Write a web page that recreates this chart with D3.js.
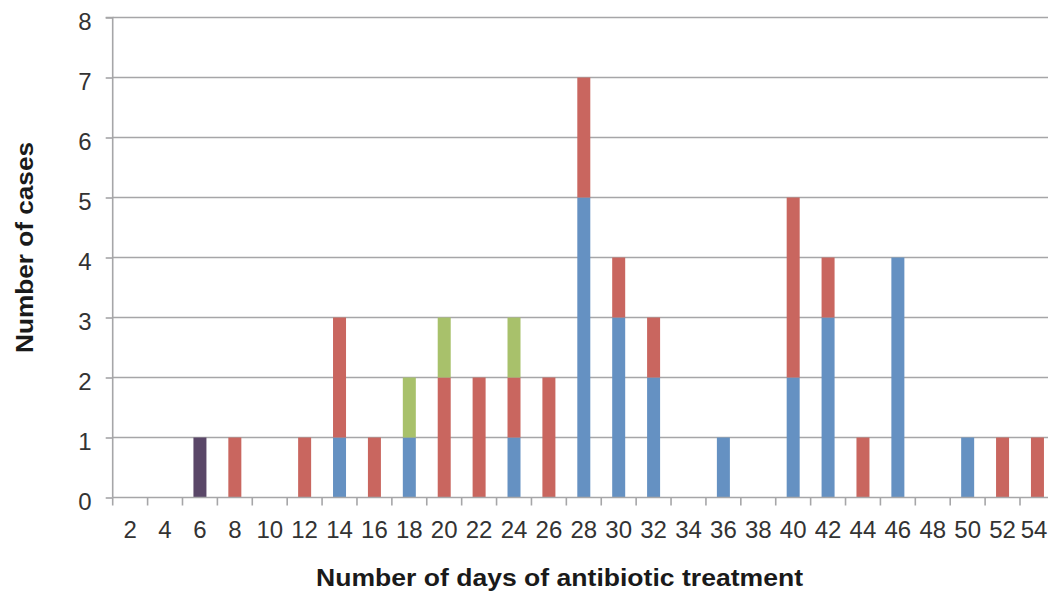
<!DOCTYPE html>
<html>
<head>
<meta charset="utf-8">
<script src="https://cdn.jsdelivr.net/npm/d3@7"></script>
<style>
  html, body { margin: 0; padding: 0; background: #fff; }
  svg { display: block; }
  text { font-family: "Liberation Sans", Arial, sans-serif; }
</style>
</head>
<body>
<script>
const categories = ["2","4","6","8","10","12","14","16","18","20","22","24","26","28","30","32","34","36","38","40","42","44","46","48","50","52","54"];
const blueValues   = [0,0,0,0,0,0,1,0,1,0,0,1,0,5,3,2,0,1,0,2,3,0,4,0,1,0,0];
const redValues    = [0,0,0,1,0,1,2,1,0,2,2,1,2,2,1,1,0,0,0,3,1,1,0,0,0,1,1];
const greenValues  = [0,0,0,0,0,0,0,0,1,1,0,1,0,0,0,0,0,0,0,0,0,0,0,0,0,0,0];
const purpleValues = [0,0,1,0,0,0,0,0,0,0,0,0,0,0,0,0,0,0,0,0,0,0,0,0,0,0,0];
const yTicks = [0,1,2,3,4,5,6,7,8];
const seriesNames = ["blue","red","green","purple"];
const seriesColors = {blue:"#6591c2", red:"#c9665f", green:"#a8c16b", purple:"#5a4768"};

const W = 1048, H = 593;
const svg = d3.select("body").append("svg").attr("width", W).attr("height", H);

const x = d3.scaleBand().domain(categories).range([112.7, 1054.9]).padding(0);
const y = d3.scaleLinear().domain([0, 8]).range([497.5, 17.5]);
const barW = 13;

const rows = categories.map((c, i) => ({cat: c, blue: blueValues[i], red: redValues[i], green: greenValues[i], purple: purpleValues[i]}));
const stack = d3.stack().keys(seriesNames)(rows);

// gridlines
svg.append("g").selectAll("line").data(yTicks.filter(t => t > 0)).join("line")
  .attr("x1", 112.7).attr("x2", W).attr("y1", d => y(d)).attr("y2", d => y(d))
  .attr("stroke", "#a6a6a8").attr("stroke-width", 1.6);

// bars
svg.append("g").selectAll("g").data(stack).join("g")
  .attr("fill", d => seriesColors[d.key])
  .selectAll("rect").data(d => d.filter(s => s[1] > s[0])).join("rect")
  .attr("x", d => x(d.data.cat) + (x.bandwidth() - barW) / 2)
  .attr("width", barW)
  .attr("y", d => y(d[1]))
  .attr("height", d => y(d[0]) - y(d[1]));

// y axis
const yAxis = d3.axisLeft(y).tickValues(yTicks).tickSize(7).tickPadding(14).tickFormat(d3.format("d"));
const gy = svg.append("g").attr("transform", "translate(112.7,0)").call(yAxis);
gy.select(".domain").attr("stroke", "#a6a6a8").attr("stroke-width", 1.6).attr("d", `M-7,${y(8)}H0V${y(0)}`);
gy.selectAll(".tick line").attr("stroke", "#a6a6a8").attr("stroke-width", 1.6);
gy.selectAll(".tick text").attr("font-size", 24).attr("fill", "#333").attr("dy", "0.52em")
  .attr("font-family", "Liberation Sans, Arial, sans-serif");

// x axis baseline
const gx = svg.append("g");
gx.append("line").attr("x1", 112.7).attr("x2", W).attr("y1", y(0)).attr("y2", y(0))
  .attr("stroke", "#a6a6a8").attr("stroke-width", 1.6);
const tickPos = categories.map(c => x(c)).concat([x.range()[1]]);
gx.selectAll("line.t").data(tickPos).join("line").attr("class", "t")
  .attr("x1", d => d).attr("x2", d => d).attr("y1", y(0)).attr("y2", y(0) + 8)
  .attr("stroke", "#a6a6a8").attr("stroke-width", 1.6);
gx.selectAll("text").data(categories).join("text")
  .attr("x", d => Math.min(x(d) + x.bandwidth() / 2, W - 14)).attr("y", 538)
  .attr("text-anchor", "middle").attr("font-size", 24).attr("fill", "#333")
  .text(d => d);

// titles
svg.append("text").attr("x", 559.5).attr("y", 586).attr("text-anchor", "middle")
  .attr("font-size", 24).attr("font-weight", "bold").attr("fill", "#1a1a1a")
  .attr("textLength", 487).attr("lengthAdjust", "spacingAndGlyphs")
  .text("Number of days of antibiotic treatment");
svg.append("text").attr("transform", "translate(33,247.5) rotate(-90)").attr("text-anchor", "middle")
  .attr("font-size", 24).attr("font-weight", "bold").attr("fill", "#1a1a1a")
  .attr("textLength", 211).attr("lengthAdjust", "spacingAndGlyphs")
  .text("Number of cases");
</script>
</body>
</html>
